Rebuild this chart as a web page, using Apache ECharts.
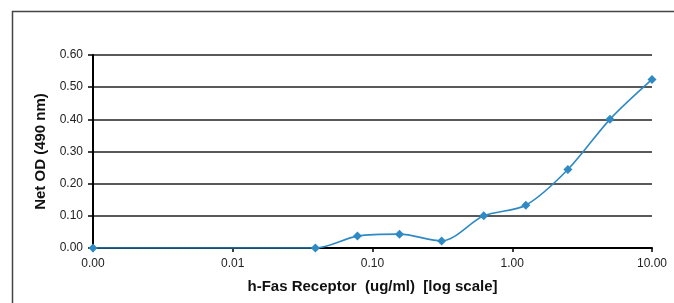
<!DOCTYPE html>
<html>
<head>
<meta charset="utf-8">
<script src="https://cdn.jsdelivr.net/npm/echarts@6/dist/echarts.min.js"></script>
<style>
  html, body { margin: 0; padding: 0; background: #fff; }
  #chart { width: 674px; height: 303px; }
</style>
</head>
<body>
<div id="chart"></div>
<script>
// concentrations (ug/ml) and net OD readings
const concentrations = [0.001, 0.039, 0.078, 0.156, 0.3125, 0.625, 1.25, 2.5, 5, 10];
const netOD = [0.0, 0.0, 0.037, 0.043, 0.022, 0.10, 0.133, 0.244, 0.40, 0.524];

const initChart = function () {
  const myChart = echarts.init(document.getElementById("chart"));
  const points = concentrations.map((c, i) => [c, netOD[i]]);
  let option = {
    animation: false,
    graphic: [
      {
        type: 'rect',
        left: 10, top: 9,
        shape: { width: 700, height: 400 },
        style: { fill: 'none', stroke: '#444', lineWidth: 1.5 }
      }
    ],
    grid: { left: 93, right: 22, top: 55, bottom: 55 },
    xAxis: {
      type: 'log',
      logBase: 10,
      min: 0.001,
      max: 10,
      name: 'h-Fas Receptor  (ug/ml)  [log scale]',
      nameLocation: 'middle',
      nameGap: 31,
      nameTextStyle: { fontFamily: 'Liberation Sans', fontWeight: 'bold', fontSize: 15, color: '#111' },
      axisLine: { lineStyle: { color: '#000', width: 2 } },
      axisTick: { show: true, length: 4, lineStyle: { color: '#000', width: 1.5 } },
      minorTick: { show: false },
      splitLine: { show: false },
      axisLabel: {
        fontFamily: 'Liberation Sans', fontSize: 12, color: '#222', margin: 10,
        formatter: v => v.toFixed(2)
      }
    },
    yAxis: {
      type: 'value',
      min: 0,
      max: 0.6,
      interval: 0.1,
      name: 'Net OD (490 nm)',
      nameLocation: 'middle',
      nameGap: 41,
      nameTextStyle: { fontFamily: 'Liberation Sans', fontWeight: 'bold', fontSize: 15, color: '#111' },
      axisLine: { show: true, lineStyle: { color: '#000', width: 2 } },
      axisTick: { show: true, length: 5, lineStyle: { color: '#000', width: 1.5 } },
      splitLine: { lineStyle: { color: '#222', width: 1.5 } },
      axisLabel: {
        fontFamily: 'Liberation Sans', fontSize: 12, color: '#222', margin: 10,
        formatter: v => v.toFixed(2)
      }
    },
    series: [
      {
        type: 'line',
        data: points,
        smooth: 0.3,
        symbol: 'diamond',
        symbolSize: 9,
        lineStyle: { color: '#2f8ac4', width: 1.6 },
        itemStyle: { color: '#2f8ac4' }
      }
    ]
  };
  myChart.setOption(option);
};

window.addEventListener("load", function () {
  initChart();
});
</script>
</body>
</html>
